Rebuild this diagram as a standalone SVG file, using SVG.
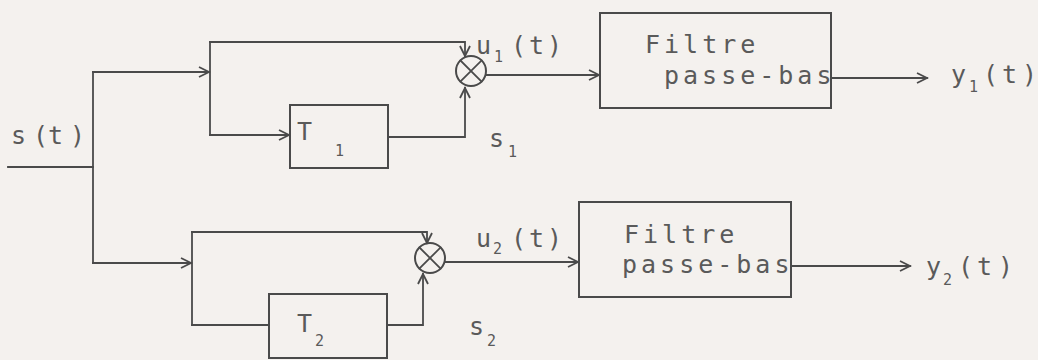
<svg xmlns="http://www.w3.org/2000/svg" width="1038" height="360" viewBox="0 0 1038 360">
<style>
.ln{fill:none;stroke:#4a4a4a;stroke-width:1.8;stroke-linecap:square}
.bx{fill:none;stroke:#4a4a4a;stroke-width:2}
.tx{font-family:"DejaVu Sans Mono","Liberation Mono",monospace;font-size:25px;fill:#5a5a5a}
.fl{letter-spacing:4px}
.sb{font-size:15px}
</style>
<defs>
<marker id="ar" markerUnits="userSpaceOnUse" markerWidth="14" markerHeight="14" viewBox="-12 -7 14 14" refX="0" refY="0" orient="auto">
<path d="M-10,-5 L0,0 L-10,5" fill="none" stroke="#4a4a4a" stroke-width="1.8"/>
</marker>
</defs>
<rect x="0" y="0" width="1038" height="360" fill="#f4f1ee"/>

<g id="connectors">
<path class="ln" d="M8,167 H93"/>
<path class="ln" d="M93,72 V263"/>
<path class="ln" d="M93,72 H209" marker-end="url(#ar)"/>
<path class="ln" d="M210,42 V135"/>
<path class="ln" d="M210,42 H465 V56" marker-end="url(#ar)"/>
<path class="ln" d="M210,135 H289" marker-end="url(#ar)"/>
<path class="ln" d="M389,137 H465 V88" marker-end="url(#ar)"/>
<path class="ln" d="M486,75 H599" marker-end="url(#ar)"/>
<path class="ln" d="M831,78 H927" marker-end="url(#ar)"/>
<path class="ln" d="M93,263 H191" marker-end="url(#ar)"/>
<path class="ln" d="M192,232 V325"/>
<path class="ln" d="M192,232 H427 V243" marker-end="url(#ar)"/>
<path class="ln" d="M192,325 H269"/>
<path class="ln" d="M387,325 H423 V274" marker-end="url(#ar)"/>
<path class="ln" d="M445,262 H578" marker-end="url(#ar)"/>
<path class="ln" d="M791,266 H910" marker-end="url(#ar)"/>
</g>

<g id="input">
<text class="tx" x="11 33 48 70" y="144">s(t)</text>
</g>

<g id="T1">
<rect class="bx" x="290" y="105" width="98" height="63"/>
<text class="tx" x="297" y="140">T<tspan class="sb" x="335" y="156">1</tspan></text>
</g>

<g id="mult1">
<circle class="bx" cx="471" cy="71" r="15"/>
<path class="ln" d="M460.4,60.4 L481.6,81.6 M481.6,60.4 L460.4,81.6"/>
<text class="tx" x="476" y="54">u<tspan class="sb" x="494" y="62">1</tspan><tspan x="511 529 547" y="54">(t)</tspan></text>
<text class="tx" x="489" y="147">s<tspan class="sb" x="508" y="157">1</tspan></text>
</g>

<g id="filter1">
<rect class="bx" x="600" y="13" width="231" height="95"/>
<text class="tx fl" x="645" y="53">Filtre</text>
<text class="tx fl" x="664" y="84">passe-bas</text>
</g>

<g id="out1">
<text class="tx" x="951" y="83">y<tspan class="sb" x="969" y="92">1</tspan><tspan x="983 1002 1022" y="83">(t)</tspan></text>
</g>

<g id="T2">
<rect class="bx" x="269" y="294" width="118" height="64"/>
<text class="tx" x="297" y="332">T<tspan class="sb" x="315" y="346">2</tspan></text>
</g>

<g id="mult2">
<circle class="bx" cx="430" cy="258" r="15"/>
<path class="ln" d="M419.4,247.4 L440.6,268.6 M440.6,247.4 L419.4,268.6"/>
<text class="tx" x="476" y="247">u<tspan class="sb" x="493" y="254">2</tspan><tspan x="511 529 547" y="247">(t)</tspan></text>
<text class="tx" x="469" y="335">s<tspan class="sb" x="487" y="346">2</tspan></text>
</g>

<g id="filter2">
<rect class="bx" x="579" y="202" width="212" height="95"/>
<text class="tx fl" x="624" y="243">Filtre</text>
<text class="tx fl" x="622" y="273">passe-bas</text>
</g>

<g id="out2">
<text class="tx" x="926" y="275">y<tspan class="sb" x="943" y="285">2</tspan><tspan x="958 977 998" y="275">(t)</tspan></text>
</g>
</svg>
